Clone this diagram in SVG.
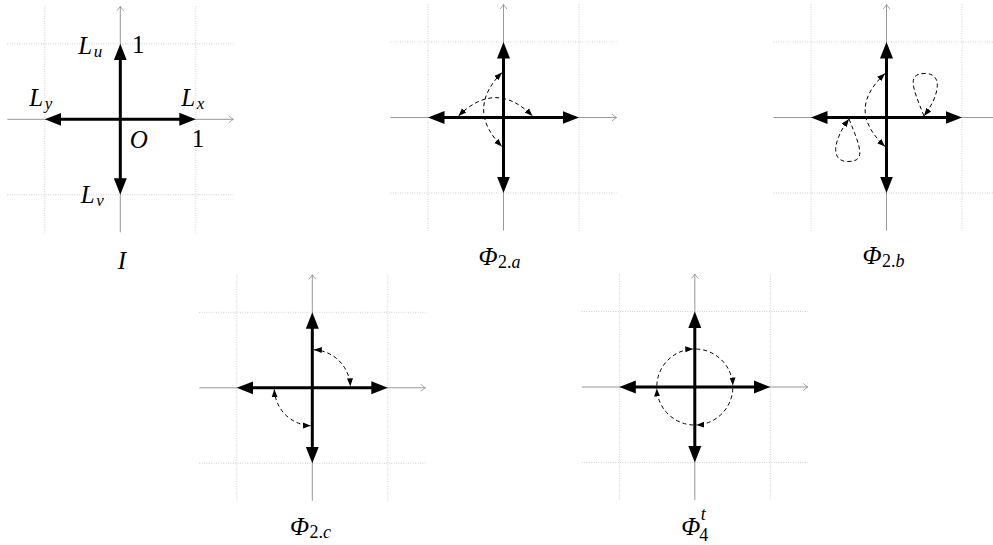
<svg xmlns="http://www.w3.org/2000/svg" xmlns:xlink="http://www.w3.org/1999/xlink" width="993" height="545" viewBox="0 0 993 545">
<style>
.grid{stroke:#b5b5b5;stroke-width:0.8;stroke-dasharray:0.8 1.6;fill:none}
.axis{stroke:#8c8c8c;stroke-width:0.9;fill:none;marker-end:url(#ax)}
.arm{stroke:#000;stroke-width:3;fill:none;marker-start:url(#big);marker-end:url(#big)}
.dash{stroke:#000;stroke-width:1;fill:none;stroke-dasharray:4 3}
.two{marker-start:url(#dh);marker-end:url(#dh)}
.one{marker-end:url(#dh)}
.lbl{font-family:"Liberation Serif","DejaVu Serif",serif;font-style:italic;font-size:25px;fill:#000}
.cap{font-size:25px}
.sub{font-size:17px}
.sub2{font-size:18px}
.up{font-style:normal}
</style>
<defs>
<marker id="big" markerUnits="userSpaceOnUse" markerWidth="20" markerHeight="16" viewBox="0 -8 20 16" refX="3" refY="0" orient="auto-start-reverse"><path d="M0,-6.5 L16.5,0 L0,6.5 Z" fill="#000"/></marker>
<marker id="dh" markerUnits="userSpaceOnUse" markerWidth="10" markerHeight="8" viewBox="0 -4 10 8" refX="8" refY="0" orient="auto-start-reverse"><path d="M0,-3 L8,0 L0,3 Z" fill="#000"/></marker>
<marker id="ax" markerUnits="userSpaceOnUse" markerWidth="8" markerHeight="10" viewBox="-6 -5 8 10" refX="0" refY="0" orient="auto"><path d="M-4.5,-3.5 Q-1.5,-0.8 0,0 Q-1.5,0.8 -4.5,3.5" fill="none" stroke="#8c8c8c" stroke-width="0.8"/></marker>
<g id="frame">
<path class="grid" d="M-75.5,-113V113M75.5,-113V113M-113,-75.5H113M-113,75.5H113"/>
<line class="axis" x1="-113" y1="0" x2="113" y2="0"/>
<line class="axis" x1="0" y1="113" x2="0" y2="-113"/>
<line class="arm" x1="-62" y1="0" x2="62" y2="0"/>
<line class="arm" x1="0" y1="-62" x2="0" y2="62"/>
</g>
</defs>

<g id="panel-I" transform="translate(120.3,119.3)">
<use href="#frame" xlink:href="#frame"/>
<text class="lbl" x="-42" y="-65.3">L<tspan class="sub" dx="1.5" dy="3">u</tspan></text>
<text class="lbl up" x="11.7" y="-66">1</text>
<text class="lbl" x="-91" y="-13.8">L<tspan class="sub" dx="1.5" dy="3">y</tspan></text>
<text class="lbl" x="61" y="-13.3">L<tspan class="sub" dx="1.5" dy="3">x</tspan></text>
<text class="lbl" x="9.5" y="29.2">O</text>
<text class="lbl up" x="71.5" y="27.7">1</text>
<text class="lbl" x="-39.5" y="83.7">L<tspan class="sub" dx="1.5" dy="3">v</tspan></text>
<text class="lbl cap" x="1.5" y="149.7" text-anchor="middle">I</text>
</g>

<g id="panel-2a" transform="translate(503.5,117.5)">
<use href="#frame" xlink:href="#frame"/>
<g id="connectors-2a">
<path class="dash two" d="M-45,-1.5 C-20.5,-26 4.5,-26 29,-1.5"/>
<path class="dash two" d="M-1.5,-45 C-26,-20.5 -26,4.5 -1.5,29"/>
</g>
<text class="lbl cap" x="-25" y="147">Φ<tspan class="sub2 up" dx="0.5" dy="3">2.</tspan><tspan class="sub2">a</tspan></text>
</g>

<g id="panel-2b" transform="translate(886.5,117.5)">
<use href="#frame" xlink:href="#frame"/>
<g id="connectors-2b">
<path class="dash two" d="M-1.5,-44 C-28,-19 -28,4 -1.5,29"/>
<path class="dash one" d="M37.5,-1.5 C26,-30 20,-44 38.5,-44 C57,-44 53,-22 37.5,-1.5"/>
<path class="dash one" transform="rotate(180)" d="M37.5,-1.5 C26,-30 20,-44 38.5,-44 C57,-44 53,-22 37.5,-1.5"/>
</g>
<text class="lbl cap" x="-24" y="146">Φ<tspan class="sub2 up" dx="0.5" dy="3">2.</tspan><tspan class="sub2">b</tspan></text>
</g>

<g id="panel-2c" transform="translate(312.3,387.8)">
<use href="#frame" xlink:href="#frame"/>
<g id="connectors-2c">
<path class="dash two" d="M1.5,-38 A38,38 0 0 1 38,-1.5"/>
<path class="dash two" d="M-38,1.5 A38,38 0 0 0 -1.5,38"/>
</g>
<text class="lbl cap" x="-22.3" y="147.5">Φ<tspan class="sub2 up" dx="0.5" dy="3">2.</tspan><tspan class="sub2">c</tspan></text>
</g>

<g id="panel-4" transform="translate(694.8,387)">
<use href="#frame" xlink:href="#frame"/>
<g id="connectors-4">
<path class="dash one" d="M-38,-1.5 A38,38 0 0 1 -1.5,-38"/>
<path class="dash one" d="M1.5,-38 A38,38 0 0 1 38,-1.5"/>
<path class="dash one" d="M38,1.5 A38,38 0 0 1 1.5,38"/>
<path class="dash one" d="M-1.5,38 A38,38 0 0 1 -38,1.5"/>
</g>
<text class="lbl cap" x="-13.5" y="148">Φ</text>
<text class="lbl sub2 up" x="4.5" y="154">4</text>
<text class="lbl sub2" x="6" y="132.5">t</text>
</g>
</svg>
